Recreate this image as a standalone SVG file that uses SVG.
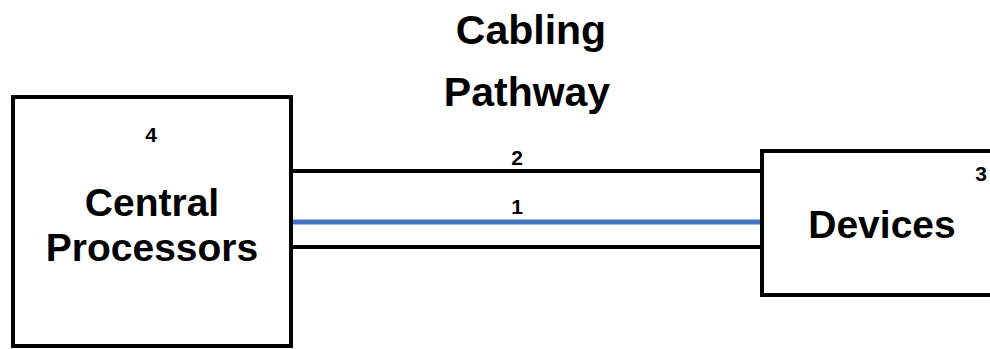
<svg xmlns="http://www.w3.org/2000/svg" width="990" height="349" viewBox="0 0 990 349">
<style>
.box{fill:#fff;stroke:#000;stroke-width:4}
.big{font-family:"Liberation Sans",Arial,sans-serif;font-weight:bold;font-size:39px;fill:#000;text-anchor:middle}
.title{font-family:"Liberation Sans",Arial,sans-serif;font-weight:bold;font-size:41px;fill:#000;text-anchor:middle}
.num{font-family:"Liberation Sans",Arial,sans-serif;font-weight:bold;font-size:21px;fill:#000;text-anchor:middle}
.wire{stroke:#000;stroke-width:4;fill:none}
.blue{stroke:#4472C4;stroke-width:5;fill:none}
</style>
<rect width="990" height="349" fill="#fff"/>
<text class="title" x="531" y="44">Cabling</text>
<text class="title" x="527" y="106">Pathway</text>
<g id="connectors">
<line class="wire" x1="290" y1="171" x2="762" y2="171"/>
<line class="wire" x1="290" y1="247" x2="762" y2="247"/>
<line class="blue" x1="290" y1="222" x2="762" y2="222"/>
<text class="num" x="517" y="165">2</text>
<text class="num" x="517" y="214">1</text>
</g>
<g id="central">
<rect class="box" x="13" y="97" width="278" height="249"/>
<text class="num" x="151" y="142">4</text>
<text class="big" x="152" y="216">Central</text>
<text class="big" x="152" y="261">Processors</text>
</g>
<g id="devices">
<rect class="box" x="762" y="151" width="240" height="144"/>
<text class="num" x="981" y="181">3</text>
<text class="big" x="882" y="238">Devices</text>
</g>
</svg>
